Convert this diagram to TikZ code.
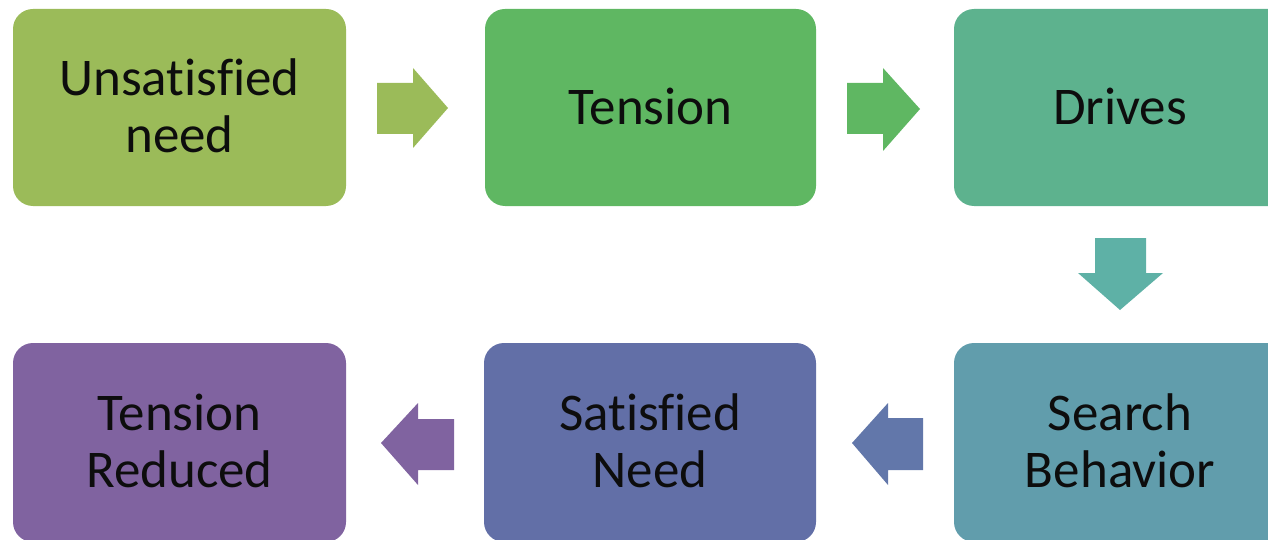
\documentclass[tikz,border=0pt]{standalone}
\usepackage{fontspec}
\setmainfont[Ligatures=NoCommon]{Carlito}
\begin{document}
\begin{tikzpicture}[x=1pt,y=-1pt,
  box/.style={rounded corners=20pt, inner sep=0pt, align=center,
    font=\fontsize{53}{57}\selectfont, text=black!95},
  blockarrow/.style={draw=none}]
\definecolor{cA}{RGB}{155,187,89}
\definecolor{cB}{RGB}{95,183,98}
\definecolor{cC}{RGB}{93,178,142}
\definecolor{cD}{RGB}{94,177,166}
\definecolor{cE}{RGB}{97,157,172}
\definecolor{cF}{RGB}{98,119,170}
\definecolor{cG}{RGB}{98,111,167}
\definecolor{cH}{RGB}{128,99,160}
\useasboundingbox (0,0) rectangle (1268,540);
\clip (0,0) rectangle (1268,540);
% boxes
\fill[cA, rounded corners=20pt] (13,9) rectangle (346,206);
\fill[cB, rounded corners=20pt] (485,9) rectangle (816,206);
\fill[cC, rounded corners=20pt] (954,9) rectangle (1290,206);
\fill[cE, rounded corners=20pt] (954,343) rectangle (1290,542);
\fill[cG, rounded corners=20pt] (484,343) rectangle (816,542);
\fill[cH, rounded corners=20pt] (13,343) rectangle (346,542);
% texts
\node[box] (n1) at (179.5,106) {Unsatisfied\\need};
\node[box] (n2) at (650.5,106) {Tension};
\node[box] (n3) at (1120,106) {Drives};
\node[box] (n4) at (1120,441) {Search\\Behavior};
\node[box] (n5) at (650,441) {Satisfied\\Need};
\node[box] (n6) at (179.5,441) {Tension\\Reduced};
% block arrows
\fill[cA] (377,83) -- (413,83) -- (413,68) -- (448,108) -- (413,148) -- (413,134) -- (377,134) -- cycle;
\fill[cB] (847,83) -- (883,83) -- (883,68) -- (920,109) -- (883,151) -- (883,134) -- (847,134) -- cycle;
\fill[cD] (1095,238) -- (1146,238) -- (1146,273) -- (1163,273) -- (1120,310) -- (1078,273) -- (1095,273) -- cycle;
\fill[cF] (923,418) -- (888,418) -- (888,403) -- (852,443) -- (888,485) -- (888,470) -- (923,470) -- cycle;
\fill[cH] (454,419) -- (418,419) -- (418,403) -- (381,443) -- (418,485) -- (418,470) -- (454,470) -- cycle;
\end{tikzpicture}
\end{document}
